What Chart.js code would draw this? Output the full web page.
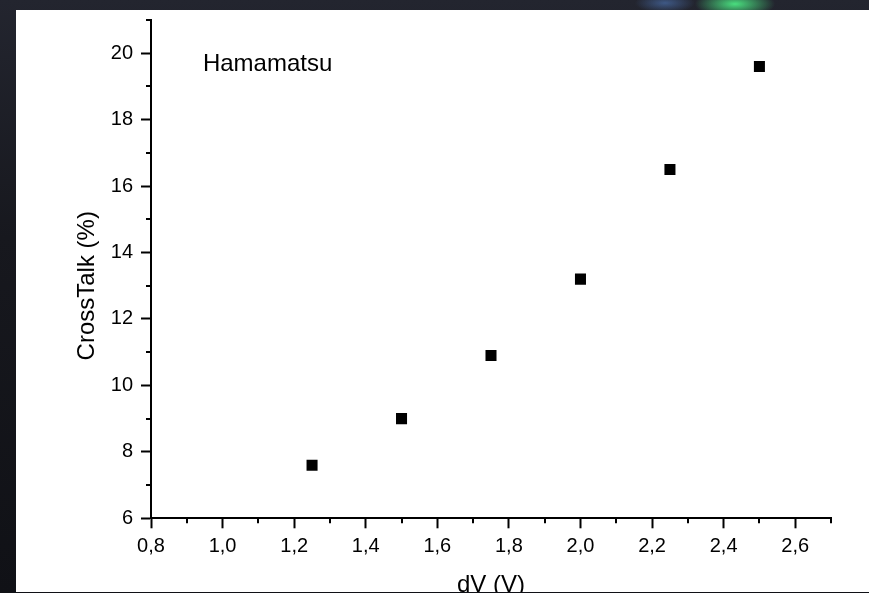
<!DOCTYPE html>
<html>
<head>
<meta charset="utf-8">
<title>CrossTalk vs dV</title>
<script src="https://cdn.jsdelivr.net/npm/chart.js@4.4.1/dist/chart.umd.min.js"></script>
<style>
  html, body { margin: 0; padding: 0; }
  body {
    width: 869px;
    height: 593px;
    overflow: hidden;
    position: relative;
    background:
      radial-gradient(ellipse 40px 14px at 735px 4px, rgba(80, 255, 140, 0.85), rgba(80, 255, 140, 0) 100%),
      radial-gradient(ellipse 30px 10px at 665px 3px, rgba(90, 140, 220, 0.5), rgba(90, 140, 220, 0) 100%),
      linear-gradient(180deg, #23252f 0%, #17181e 40%, #101116 100%);
  }
  #panel {
    position: absolute;
    left: 16px;
    top: 10px;
    width: 853px;
    height: 582px;
    background: #fff;
    overflow: hidden;
  }
  #wrap {
    position: relative;
    width: 853px;
    height: 600px;
  }
</style>
</head>
<body>
<div id="panel">
  <div id="wrap"><canvas id="crosstalkChart"></canvas></div>
</div>
<script>
// Measured crosstalk against overvoltage
const dV = [1.25, 1.5, 1.75, 2.0, 2.25, 2.5];
const crossTalk = [7.6, 9.0, 10.9, 13.2, 16.5, 19.6];

// Axis ticks (major get labels, minor are short marks only)
const xMajorTicks = [0.8, 1.0, 1.2, 1.4, 1.6, 1.8, 2.0, 2.2, 2.4, 2.6];
const xMinorTicks = [0.9, 1.1, 1.3, 1.5, 1.7, 1.9, 2.1, 2.3, 2.5, 2.7];
const yMajorTicks = [6, 8, 10, 12, 14, 16, 18, 20];
const yMinorTicks = [7, 9, 11, 13, 15, 17, 19, 21];

const FONT = "'Liberation Sans', Arial, sans-serif";

// short outward minor ticks, the in-plot label and the rotated y title
const extras = {
    id: 'extras',
    afterDraw(chart) {
        const { ctx, chartArea } = chart;
        const x = chart.scales.x;
        const y = chart.scales.y;
        ctx.save();
        ctx.strokeStyle = '#000';
        ctx.lineWidth = 2;
        ctx.beginPath();
        xMinorTicks.forEach(v => {
            const px = Math.round(x.getPixelForValue(v));
            ctx.moveTo(px, chartArea.bottom);
            ctx.lineTo(px, chartArea.bottom + 5);
        });
        yMinorTicks.forEach(v => {
            const py = Math.round(y.getPixelForValue(v));
            ctx.moveTo(chartArea.left - 5, py);
            ctx.lineTo(chartArea.left, py);
        });
        ctx.stroke();

        ctx.fillStyle = '#000';
        ctx.font = `24px ${FONT}`;
        ctx.textAlign = 'left';
        ctx.textBaseline = 'alphabetic';
        ctx.fillText('Hamamatsu', x.getPixelForValue(0.945), y.getPixelForValue(19.45));

        ctx.translate(chartArea.left - 64, y.getPixelForValue(13));
        ctx.rotate(-Math.PI / 2);
        ctx.textAlign = 'center';
        ctx.textBaseline = 'middle';
        ctx.fillText('CrossTalk (%)', 0, 0);
        ctx.restore();
    }
};

const axisCommon = {
    type: 'linear',
    border: { display: true, color: '#000', width: 2 },
    grid: {
        drawOnChartArea: false,
        drawTicks: true,
        tickLength: 10,
        tickColor: '#000',
        tickWidth: 2
    }
};

new Chart(document.getElementById('crosstalkChart').getContext('2d'), {
    type: 'scatter',
    data: {
        datasets: [{
            label: 'Hamamatsu',
            data: dV.map((v, i) => ({ x: v, y: crossTalk[i] })),
            pointStyle: 'rect',
            pointRadius: 7.8,
            borderWidth: 0,
            backgroundColor: '#000',
            borderColor: '#000'
        }]
    },
    options: {
        responsive: true,
        maintainAspectRatio: false,
        animation: false,
        layout: { padding: { top: 10, right: 38, left: 0, bottom: 0 } },
        plugins: {
            legend: { display: false },
            tooltip: { enabled: false }
        },
        scales: {
            x: {
                ...axisCommon,
                position: 'bottom',
                min: 0.8,
                max: 2.7,
                afterBuildTicks: s => { s.ticks = xMajorTicks.map(v => ({ value: v })); },
                afterFit: s => {
                    s.height = 91.7;
                    s.paddingLeft = 0;
                    s.paddingRight = 0;
                },
                ticks: {
                    color: '#000',
                    font: { family: FONT, size: 20 },
                    padding: 6,
                    maxRotation: 0,
                    autoSkip: false,
                    callback: v => v.toFixed(1).replace('.', ',')
                },
                title: {
                    display: true,
                    text: 'dV (V)',
                    color: '#000',
                    font: { family: FONT, size: 24 },
                    padding: { top: 0, bottom: 10 }
                }
            },
            y: {
                ...axisCommon,
                position: 'left',
                min: 6,
                max: 21,
                afterBuildTicks: s => { s.ticks = yMajorTicks.map(v => ({ value: v })); },
                afterFit: s => {
                    s.width = 135;
                    s.paddingTop = 0;
                    s.paddingBottom = 0;
                },
                ticks: {
                    color: '#000',
                    font: { family: FONT, size: 20 },
                    padding: 8,
                    autoSkip: false
                }
            }
        }
    },
    plugins: [extras]
});
</script>
</body>
</html>
